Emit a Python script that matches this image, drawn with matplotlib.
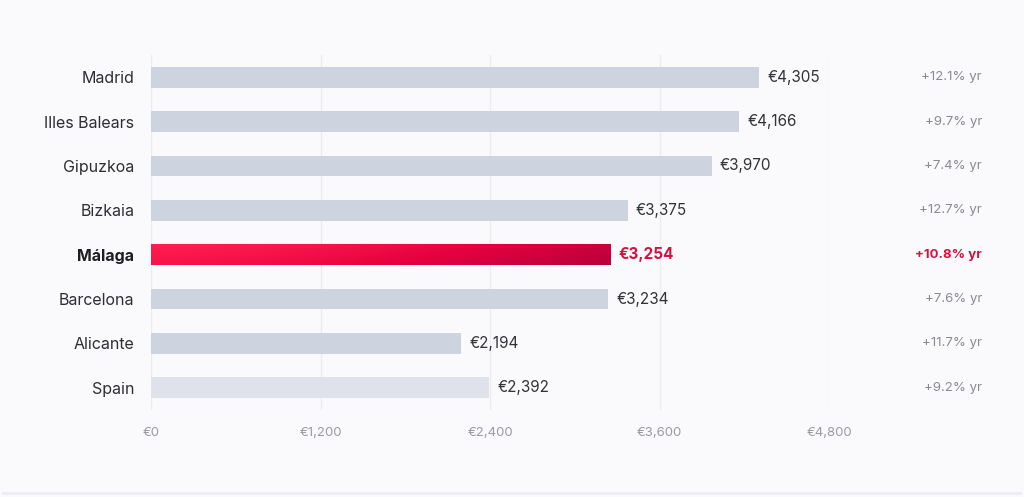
import numpy as np
import matplotlib.pyplot as plt
from matplotlib.colors import LinearSegmentedColormap
from matplotlib.lines import Line2D

regions = ['Madrid', 'Illes Balears', 'Gipuzkoa', 'Bizkaia', 'Málaga',
           'Barcelona', 'Alicante', 'Spain']
prices = [4305, 4166, 3970, 3375, 3254, 3234, 2194, 2392]
growth = ['+12.1% yr', '+9.7% yr', '+7.4% yr', '+12.7% yr', '+10.8% yr',
          '+7.6% yr', '+11.7% yr', '+9.2% yr']
xticks = [0, 1200, 2400, 3600, 4800]
highlight = 'Málaga'
national = 'Spain'

plt.rcParams['font.family'] = ['Inter', 'DejaVu Sans']

bg = '#fafafc'
grey_bar = '#cdd3df'
light_bar = '#dfe2eb'
red = '#d6103e'

fig = plt.figure(figsize=(10.24, 4.97), dpi=100, facecolor=bg)
ax = fig.add_axes([151 / 1024, 87 / 497, 678 / 1024, 355 / 497])
ax.set_facecolor(bg)

y = np.arange(len(regions))
colors = []
for r in regions:
    if r == national:
        colors.append(light_bar)
    else:
        colors.append(grey_bar)
bars = ax.barh(y, prices, height=0.47, color=colors, zorder=2)

# gradient fill on the highlighted bar
cmap = LinearSegmentedColormap.from_list('red', ['#ff1f4f', '#e6003f', '#b8003a'])
for i, r in enumerate(regions):
    if r == highlight:
        b = bars[i]
        b.set_facecolor('none')
        gx, gy = np.meshgrid(np.linspace(0, 1, 200), np.linspace(0, 1, 20))
        grad = 0.8 * gx**1.5 + 0.2 * gy
        im = ax.imshow(grad, cmap=cmap, aspect='auto', zorder=3,
                       extent=[0, prices[i], i + 0.235, i - 0.235], origin='upper')
        im.set_clip_path(b)

ax.set_xlim(0, 4800)
ax.set_ylim(len(regions) - 0.5, -0.5)
ax.set_xticks(xticks)
ax.set_xticklabels(['€{:,}'.format(t) for t in xticks], color='#9a9aa2', fontsize=9.5)
ax.set_yticks(y)
ax.set_yticklabels(regions, fontsize=11.5, color='#2e2e33')
for lab in ax.get_yticklabels():
    if lab.get_text() == highlight:
        lab.set_fontweight('bold')
        lab.set_color('#1e1e22')
ax.tick_params(axis='x', length=0, pad=12)
ax.tick_params(axis='y', length=0, pad=12)
ax.grid(axis='x', color='#ececf0', lw=1, zorder=0)
for s in ax.spines.values():
    s.set_visible(False)

for i, (r, v, g) in enumerate(zip(regions, prices, growth)):
    hl = r == highlight
    ax.annotate('€{:,}'.format(v), (v, i), xytext=(6, 0), textcoords='offset points',
                va='center', ha='left', fontsize=11,
                color=red if hl else '#333338',
                fontweight='bold' if hl else 'normal')
    ax.annotate(g, xy=(982 / 1024, i), xycoords=('figure fraction', 'data'),
                va='center', ha='right', fontsize=9.5,
                color=red if hl else '#8a8a92',
                fontweight='bold' if hl else 'normal')

fig.add_artist(Line2D([3 / 1024, 1020 / 1024], [4 / 497, 4 / 497],
                      transform=fig.transFigure, color='#ededf1', lw=2))

plt.savefig('out.png', dpi=100, facecolor=bg)
